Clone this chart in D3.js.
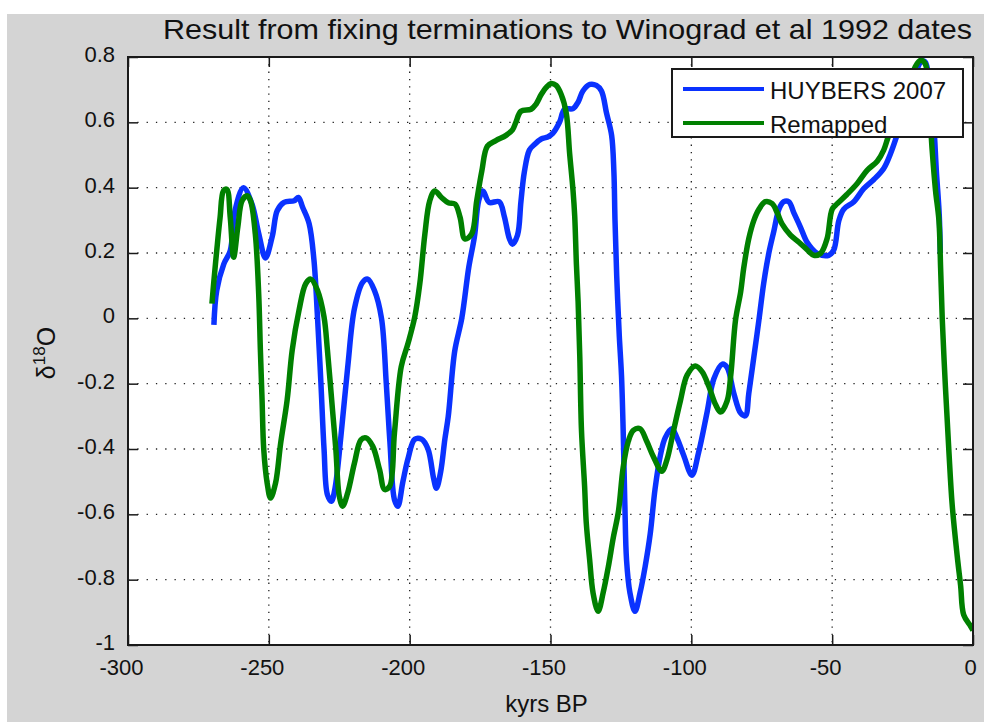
<!DOCTYPE html>
<html>
<head>
<meta charset="utf-8">
<script src="https://d3js.org/d3.v7.min.js"></script>
<style>
  body { margin: 0; background: #fff; }
  svg { display: block; font-family: "Liberation Sans", Arial, sans-serif; }
</style>
</head>
<body>
<div id="chart"></div>
<script>
// chart text
var titleText = "Result from fixing terminations to Winograd et al 1992 dates";
var xLabel = "kyrs BP";
var seriesNames = ["HUYBERS 2007", "Remapped"];

// tick values
var xTicks = [-300, -250, -200, -150, -100, -50, 0];
var yTicks = [-1, -0.8, -0.6, -0.4, -0.2, 0, 0.2, 0.4, 0.6, 0.8];

// HUYBERS 2007 (blue)
var huybersYears = [-269.5, -268.5, -266, -263.7, -262, -259, -256, -253.6, -251.2, -248.8, -247, -244.6, -241, -239.5,
  -238, -235.7, -234, -232.7, -231.5, -230.4, -229.2, -227.8, -226.5, -224.4, -222, -219.6, -216.7, -214.9, -212.5,
  -210, -208.3, -207, -205.4, -204.2, -202.4, -200.6, -198.2, -195.8, -193.5, -191.5, -190.5, -189, -187.5, -186.3,
  -184, -181.5, -179, -177, -175.5, -174, -171.8, -168.2, -166.4, -164.6, -163.5, -161.7, -160.5, -159.3, -157.5,
  -155.7, -153.3, -151, -149.2, -146.8, -145, -142, -140.2, -138.5, -136, -133.7, -131.9, -130.1, -128.3, -127.5,
  -127.1, -126.5, -125.6, -124.8, -124.2, -123.6, -123, -121.8, -120, -118.2, -116.4, -114.6, -112.9, -111, -109.3,
  -106.9, -105.1, -102.7, -99.8, -97.4, -94.4, -92, -89, -87.3, -84.9, -82.5, -80.8, -79.6, -77.8, -76, -74.3, -72.5,
  -70.7, -68.9, -67.2, -65.4, -63.6, -61.2, -58.9, -55.3, -51.2, -49.4, -47.6, -45.9, -42.3, -38.8, -35.2, -31.7,
  -29.3, -27, -24, -21, -18.5, -17, -15.5, -14, -13, -12, -11.6];
var huybersD18O = [-0.02, 0.085, 0.166, 0.207, 0.33, 0.40, 0.35, 0.26, 0.185, 0.25, 0.33, 0.355, 0.36, 0.37,
  0.34, 0.29, 0.18, 0.0, -0.2, -0.4, -0.54, -0.56, -0.52, -0.36, -0.15, 0.03, 0.11, 0.12, 0.085,
  0.0, -0.2, -0.38, -0.555, -0.575, -0.5, -0.43, -0.37, -0.37, -0.40, -0.49, -0.52, -0.47, -0.37, -0.30,
  -0.10, 0.0, 0.157, 0.25, 0.36, 0.39, 0.355, 0.357, 0.312, 0.244, 0.227, 0.255, 0.357, 0.447, 0.515,
  0.532, 0.549, 0.555, 0.566, 0.6, 0.64, 0.642, 0.662, 0.696, 0.716, 0.713, 0.696, 0.628, 0.56, 0.45,
  0.3, 0.131, -0.05, -0.174, -0.343, -0.57, -0.74, -0.84, -0.897, -0.84, -0.76, -0.66, -0.524, -0.42, -0.366,
  -0.338, -0.366, -0.42, -0.48, -0.41, -0.287, -0.185, -0.14, -0.15, -0.23, -0.29, -0.298, -0.23, -0.118, -0.005, 0.108, 0.199,
  0.267, 0.334, 0.357, 0.357, 0.323, 0.278, 0.233, 0.199, 0.193, 0.21, 0.3, 0.334, 0.357, 0.397, 0.425, 0.459,
  0.504, 0.56, 0.64, 0.73, 0.785, 0.785, 0.72, 0.60, 0.45, 0.32, 0.2];

// Remapped (green)
var remapYears = [-270.2, -269.6, -268.5, -267.3, -266.1, -264.9, -263.7, -262.5, -261, -259.5, -257.7, -256.5, -254.8,
  -253.6, -253, -252.4, -251.8, -250.6, -249.4, -247.6, -245.8, -243.5, -241.7, -239.3, -236.9, -235.1, -232.7,
  -230.4, -229.2, -227.4, -226.2, -225, -223.8, -222, -219.6, -217.3, -215.5, -213.1, -210.7, -208.9, -207.1,
  -205.4, -203, -200.6, -198.2, -196.4, -194.6, -192.9, -191.1, -188.7, -186.3, -183.9, -182.1, -180.4, -178,
  -176.2, -174.4, -172.4, -169.4, -165.8, -163.5, -162.3, -160.5, -156.9, -155.1, -153.3, -151.5, -149.8, -148,
  -146.2, -144.4, -143.2, -142, -141.4, -140.8, -140.2, -139.6, -139, -137.9, -137.3, -136.1, -134.9, -133.1,
  -131.3, -129.5, -127.7, -125.9, -124.2, -122.4, -120.6, -118.2, -115.8, -113.5, -110.5, -108.7, -106.3, -103.9,
  -101.5, -98.6, -96.2, -93.8, -91.4, -89.6, -87.3, -86, -84.3, -82.5, -81.4, -79.6, -77.8, -76, -73.7, -71.3,
  -69.5, -67.8, -64.8, -61.8, -58.9, -56.5, -54.1, -51.8, -50, -48.2, -44.7, -41.1, -37.6, -34, -31.7, -29.9,
  -26, -23, -20.5, -18.6, -17, -15.5, -14.5, -13.3, -12.1, -11.5, -10.9, -9.8, -8.6, -7.4, -5.6, -4.4, -3.3, -0.9, 0];
var remapD18O = [0.045, 0.106, 0.207, 0.309, 0.39, 0.395, 0.309, 0.187, 0.28, 0.36, 0.375, 0.36, 0.258,
  0.075, -0.097, -0.25, -0.402, -0.504, -0.55, -0.504, -0.382, -0.25, -0.097, 0.024, 0.106, 0.12, 0.085,
  0.004, -0.097, -0.28, -0.402, -0.544, -0.575, -0.534, -0.443, -0.372, -0.366, -0.392, -0.463, -0.524, -0.514,
  -0.351, -0.148, -0.077, 0.004, 0.106, 0.258, 0.359, 0.39, 0.37, 0.354, 0.35, 0.309, 0.243, 0.258,
  0.359, 0.45, 0.527, 0.544, 0.56, 0.577, 0.6, 0.634, 0.64, 0.656, 0.685, 0.707, 0.719, 0.713,
  0.685, 0.628, 0.504, 0.391, 0.312, 0.165, 0.052, -0.118, -0.343, -0.513, -0.626, -0.739, -0.84, -0.897,
  -0.84, -0.762, -0.671, -0.592, -0.456, -0.377, -0.343, -0.338, -0.377, -0.423, -0.468, -0.434, -0.343, -0.253,
  -0.174, -0.146, -0.163, -0.208, -0.264, -0.287, -0.253, -0.174, -0.005, 0.08, 0.154, 0.244, 0.3, 0.334, 0.357, 0.351,
  0.323, 0.289, 0.255, 0.233, 0.21, 0.193, 0.199, 0.244, 0.334, 0.351, 0.38, 0.413, 0.453, 0.481, 0.515, 0.56,
  0.63, 0.70, 0.77, 0.79, 0.78, 0.65, 0.515, 0.391, 0.3, 0.154, -0.005, -0.208, -0.4, -0.57, -0.728, -0.818, -0.908, -0.942, -0.955];

var W = 984, H = 722;
var margin = { top: 57, right: 11, bottom: 77, left: 128 },
    width = W - margin.left - margin.right,
    height = H - margin.top - margin.bottom;

var svg = d3.select("#chart").append("svg")
    .attr("width", W)
    .attr("height", H);

// figure background
svg.append("rect").attr("width", W).attr("height", H).attr("fill", "#ffffff");
svg.append("rect").attr("x", 7).attr("y", 14).attr("width", W - 7).attr("height", H - 14).attr("fill", "#d4d4d4");

var g = svg.append("g").attr("transform", `translate(${margin.left},${margin.top})`);

var x = d3.scaleLinear().domain([-300, 0]).range([0, width]);
var y = d3.scaleLinear().domain([-1, 0.8]).range([height, 0]);

g.append("rect").attr("width", width).attr("height", height).attr("fill", "#fff");

// dotted grid
g.append("g").selectAll("line").data(xTicks.slice(1, -1)).enter().append("line")
    .attr("x1", d => x(d)).attr("x2", d => x(d)).attr("y1", 0).attr("y2", height)
    .attr("stroke", "#222").attr("stroke-width", 1.3).attr("stroke-dasharray", "1.3,6");
g.append("g").selectAll("line").data(yTicks.slice(1, -1)).enter().append("line")
    .attr("y1", d => y(d)).attr("y2", d => y(d)).attr("x1", 0).attr("x2", width)
    .attr("stroke", "#222").attr("stroke-width", 1.3).attr("stroke-dasharray", "1.3,8");

g.append("defs").append("clipPath").attr("id", "clip")
    .append("rect").attr("x", 0).attr("y", -3).attr("width", width).attr("height", height + 3);

var line = d3.line()
    .x(d => x(d[0]))
    .y(d => y(d[1]))
    .curve(d3.curveCatmullRom.alpha(0.5));

var huybers = huybersYears.map((d, i) => [d, huybersD18O[i]]);
var remap = remapYears.map((d, i) => [d, remapD18O[i]]);
var colors = ["#0a32ff", "#008000"];

var lines = g.append("g").attr("clip-path", "url(#clip)");
lines.append("path").datum(huybers)
    .attr("fill", "none").attr("stroke", colors[0]).attr("stroke-width", 5.5)
    .attr("stroke-linejoin", "round").attr("d", line);
lines.append("path").datum(remap)
    .attr("fill", "none").attr("stroke", colors[1]).attr("stroke-width", 5.5)
    .attr("stroke-linejoin", "round").attr("d", line);

// axes: ticks inward on all four sides, box round the plot
var tickLen = 10;
var fmt = d => String(+d.toFixed(1));   // plain hyphen minus, like the reference
var xAxisB = g.append("g").attr("transform", `translate(0,${height})`)
    .call(d3.axisBottom(x).tickValues(xTicks).tickSize(-tickLen).tickPadding(26).tickFormat(fmt));
var xAxisT = g.append("g")
    .call(d3.axisTop(x).tickValues(xTicks).tickSize(-tickLen).tickFormat(""));
var yAxisL = g.append("g")
    .call(d3.axisLeft(y).tickValues(yTicks).tickSize(-tickLen).tickPadding(13).tickFormat(fmt));
var yAxisR = g.append("g").attr("transform", `translate(${width},0)`)
    .call(d3.axisRight(y).tickValues(yTicks).tickSize(-tickLen).tickFormat(""));

[xAxisB, xAxisT, yAxisL, yAxisR].forEach(function (a) {
    a.select(".domain").remove();
    a.selectAll(".tick line").attr("stroke", "#1a1a1a").attr("stroke-width", 1.5);
    a.selectAll("text").attr("fill", "#111").style("font-size", "22px")
        .style("font-family", "'Liberation Sans', Arial, sans-serif");
});
// minus-signed labels sit a little left of their tick
xAxisB.selectAll(".tick text").attr("dx", d => d < 0 ? -7 : -3).attr("dy", "0.2em");
yAxisL.selectAll(".tick text").attr("dy", "0.2em");

g.append("rect").attr("width", width).attr("height", height)
    .attr("fill", "none").attr("stroke", "#1a1a1a").attr("stroke-width", 2);

// title
svg.append("text")
    .attr("x", 163).attr("y", 39)
    .attr("textLength", 809).attr("lengthAdjust", "spacingAndGlyphs")
    .style("font-size", "28px").attr("fill", "#111")
    .text(titleText);

// axis labels
svg.append("text")
    .attr("x", margin.left + width / 2 - 4).attr("y", 712)
    .attr("text-anchor", "middle").style("font-size", "24px").attr("fill", "#111")
    .text(xLabel);

var yl = svg.append("text")
    .attr("transform", "translate(55,353) rotate(-90)")
    .attr("text-anchor", "middle").style("font-size", "25px").attr("fill", "#111");
yl.append("tspan").text("δ");
yl.append("tspan").attr("dy", -10).style("font-size", "17px").text("18");
yl.append("tspan").attr("dy", 10).text("O");

// legend
var legend = svg.append("g").attr("transform", "translate(672,69)");
legend.append("rect").attr("width", 291).attr("height", 68)
    .attr("fill", "#fff").attr("stroke", "#1a1a1a").attr("stroke-width", 2);
var items = legend.selectAll(".item").data(seriesNames).enter().append("g")
    .attr("transform", (d, i) => `translate(0,${20 + i * 34})`);
items.append("line").attr("x1", 11).attr("x2", 92)
    .attr("stroke", (d, i) => colors[i]).attr("stroke-width", 4);
items.append("text").attr("x", 98).attr("y", 10)
    .style("font-size", "24px").attr("fill", "#111").text(d => d);
</script>
</body>
</html>
